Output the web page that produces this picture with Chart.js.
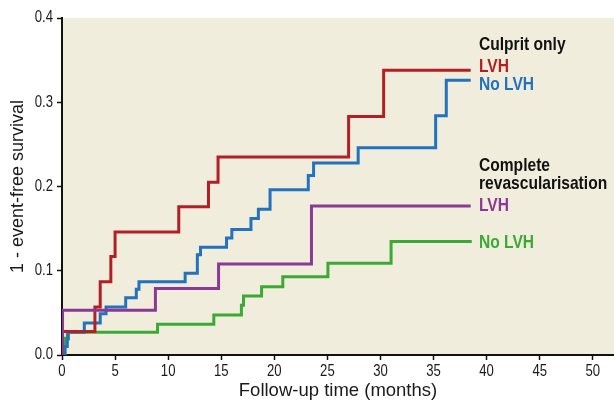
<!DOCTYPE html>
<html>
<head>
<meta charset="utf-8">
<script src="https://cdn.jsdelivr.net/npm/chart.js@4"></script>
<style>
  html, body { margin: 0; padding: 0; background: #fff; }
  #chart { display: block; }
</style>
</head>
<body>
<canvas id="chart" width="614" height="402"></canvas>
<script>
// months of follow-up at each step, and 1 - event-free survival after that step
const culpritLvhTime = [0, 0, 3.1, 3.6, 4.6, 5.0, 11.0, 13.8, 14.7, 27.0, 30.3, 38.5];
const culpritLvhRisk = [0, 0.028, 0.057, 0.087, 0.117, 0.146, 0.176, 0.205, 0.235, 0.283, 0.338, 0.338];

const culpritNoLvhTime = [0, 0.25, 0.5, 0.6, 2.1, 3.6, 4.15, 6.0, 7.0, 7.25, 11.6, 12.75, 13.05, 15.5, 16.0, 17.8, 18.5, 19.6, 23.2, 23.7, 27.9, 35.2, 36.2, 38.5];
const culpritNoLvhRisk = [0, 0.01, 0.019, 0.027, 0.038, 0.049, 0.057, 0.068, 0.078, 0.087, 0.097, 0.119, 0.128, 0.139, 0.149, 0.162, 0.173, 0.196, 0.213, 0.228, 0.246, 0.284, 0.326, 0.326];

const completeLvhTime = [0, 0.05, 8.8, 14.75, 23.5, 38.5];
const completeLvhRisk = [0, 0.053, 0.079, 0.108, 0.177, 0.177];

const completeNoLvhTime = [0, 0.3, 0.5, 9.0, 14.3, 16.9, 17.1, 18.8, 20.8, 25.05, 31.0, 38.6];
const completeNoLvhRisk = [0, 0.02, 0.027, 0.0365, 0.0475, 0.059, 0.070, 0.081, 0.093, 0.109, 0.1346, 0.1346];

const xTicks = [0, 5, 10, 15, 20, 25, 30, 35, 40, 45, 50];
const yTicks = [0, 0.1, 0.2, 0.3, 0.4];

const sans = "'Liberation Sans', Arial, sans-serif";
const squeeze = 0.82; // no narrow face installed, so squash Liberation Sans

function toPoints(times, values) {
    return times.map((t, i) => ({x: t, y: values[i]}));
}

function stepSet(label, times, values, color, order) {
    return {
        label: label,
        data: toPoints(times, values),
        borderColor: color,
        borderWidth: 3,
        stepped: 'before',
        pointRadius: 0,
        fill: false,
        order: order
    };
}

function narrowText(ctx, text, x, y) {
    ctx.save();
    ctx.translate(x, y);
    ctx.scale(squeeze, 1);
    ctx.fillText(text, 0, 0);
    ctx.restore();
}

// beige panel behind the curves
const panelBg = {
    id: 'panelBg',
    beforeDraw(chart) {
        const a = chart.chartArea;
        const ctx = chart.ctx;
        ctx.save();
        ctx.fillStyle = '#f1eddc';
        ctx.fillRect(a.left, a.top, chart.width - a.left, a.bottom - a.top);
        ctx.restore();
    }
};

// condensed tick labels, placed by the scales
const narrowTicks = {
    id: 'narrowTicks',
    afterDraw(chart) {
        const ctx = chart.ctx;
        const xs = chart.scales.x, ys = chart.scales.y;
        ctx.save();
        ctx.font = "16px " + sans;
        ctx.fillStyle = '#1a1a1a';
        ctx.textAlign = 'center';
        ctx.textBaseline = 'alphabetic';
        xs.ticks.forEach(t => {
            narrowText(ctx, String(t.value), xs.getPixelForValue(t.value), xs.top + 21);
        });
        ctx.textAlign = 'right';
        ctx.textBaseline = 'middle';
        ys.ticks.forEach(t => {
            narrowText(ctx, t.value.toFixed(1), ys.right - 9, ys.getPixelForValue(t.value));
        });
        ctx.restore();
    }
};

// group labels at the right of the curves
const groupLabels = {
    id: 'groupLabels',
    afterDraw(chart) {
        const ctx = chart.ctx;
        ctx.save();
        ctx.font = "bold 19px " + sans;
        ctx.textAlign = 'left';
        ctx.textBaseline = 'alphabetic';
        const x = 479;
        const rows = [
            ['Culprit only', '#111111', 50],
            ['LVH', '#b21f24', 71.5],
            ['No LVH', '#2272bd', 90],
            ['Complete', '#111111', 171],
            ['revascularisation', '#111111', 188.5],
            ['LVH', '#8a3a95', 210.5],
            ['No LVH', '#3aaa35', 247.5]
        ];
        rows.forEach(r => {
            ctx.fillStyle = r[1];
            narrowText(ctx, r[0], x, r[2]);
        });
        ctx.restore();
    }
};

new Chart(document.getElementById('chart').getContext('2d'), {
    type: 'line',
    data: {
        datasets: [
            stepSet('Complete revascularisation LVH', completeLvhTime, completeLvhRisk, '#8a3a95', 0),
            stepSet('Culprit only LVH', culpritLvhTime, culpritLvhRisk, '#b21f24', 1),
            stepSet('Culprit only No LVH', culpritNoLvhTime, culpritNoLvhRisk, '#2272bd', 2),
            stepSet('Complete revascularisation No LVH', completeNoLvhTime, completeNoLvhRisk, '#3aaa35', 3)
        ]
    },
    options: {
        responsive: false,
        animation: false,
        layout: { padding: { top: 18, left: 0, right: 0, bottom: 0 } },
        plugins: {
            legend: { display: false },
            tooltip: { enabled: false }
        },
        scales: {
            x: {
                type: 'linear',
                min: 0,
                max: 52,
                afterBuildTicks: s => { s.ticks = xTicks.map(v => ({value: v})); },
                afterFit: s => { s.height = 47; },
                grid: { drawOnChartArea: false, drawTicks: true, tickLength: 5, color: '#111', tickWidth: 1.5 },
                border: { color: '#111', width: 2 },
                ticks: { display: false },
                title: { display: true, text: 'Follow-up time (months)', font: { family: sans, size: 18.5 }, color: '#1a1a1a', padding: { top: 0, bottom: 0 } }
            },
            y: {
                min: 0,
                max: 0.4,
                afterBuildTicks: s => { s.ticks = yTicks.map(v => ({value: v})); },
                afterFit: s => { s.width = 62; },
                grid: { drawOnChartArea: false, drawTicks: true, tickLength: 5, color: '#111', tickWidth: 1.5 },
                border: { color: '#111', width: 2 },
                ticks: { display: false },
                title: { display: true, text: '1 - event-free survival', font: { family: sans, size: 18 }, color: '#1a1a1a', padding: { top: 7, bottom: 0 } }
            }
        }
    },
    plugins: [panelBg, narrowTicks, groupLabels]
});
</script>
</body>
</html>
